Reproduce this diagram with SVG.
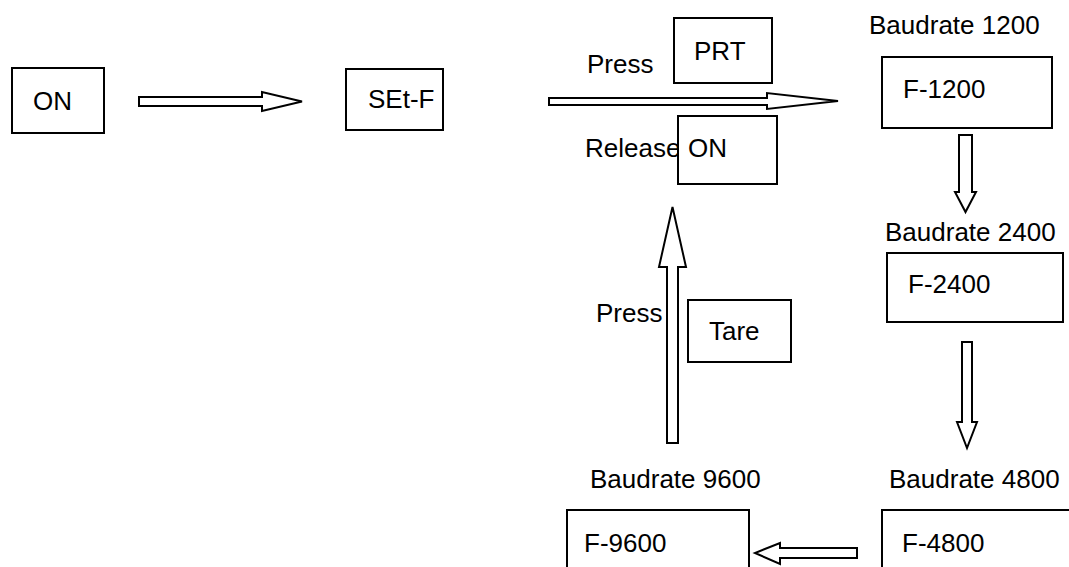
<svg xmlns="http://www.w3.org/2000/svg" width="1069" height="567" viewBox="0 0 1069 567">
<style>
.box{fill:#fff;stroke:#000;stroke-width:2}
.arr{fill:#fff;stroke:#000;stroke-width:2;stroke-linejoin:miter}
text{font-family:"Liberation Sans",Arial,sans-serif;font-size:26px;fill:#000}
</style>
<rect width="1069" height="567" fill="#fff"/>
<g id="connectors">
<polygon class="arr" points="139,97 262,97 262,92 302,101.5 262,111 262,106 139,106"/>
<polygon class="arr" points="549,98 767,98 767,93 838,101 767,109 767,105 549,105"/>
<polygon class="arr" points="959,135 972,135 972,192 976,192 965.5,212 955,192 959,192"/>
<polygon class="arr" points="962,342 972,342 972,422 977,422 967,448 957,422 962,422"/>
<polygon class="arr" points="857,548 857,558 780,558 780,564 755,553 780,543 780,548"/>
<polygon class="arr" points="667,443 678,443 678,267 686,267 672.5,207 659,267 667,267"/>
</g>
<g id="labels">
<text x="587" y="73">Press</text>
<text x="585" y="157">Release</text>
<text x="596" y="322">Press</text>
<text x="869" y="34">Baudrate 1200</text>
<text x="885" y="241">Baudrate 2400</text>
<text x="889" y="488">Baudrate 4800</text>
<text x="590" y="488">Baudrate 9600</text>
</g>
<g id="node-on"><rect class="box" x="12" y="68" width="92" height="65"/><text x="33" y="110">ON</text></g>
<g id="node-setf"><rect class="box" x="346" y="69" width="97" height="61"/><text x="368" y="108">SEt-F</text></g>
<g id="node-prt"><rect class="box" x="674" y="18" width="98" height="65"/><text x="694" y="60">PRT</text></g>
<g id="node-on2"><rect class="box" x="678" y="116" width="99" height="68"/><text x="688" y="157">ON</text></g>
<g id="node-tare"><rect class="box" x="688" y="300" width="103" height="62"/><text x="709" y="340">Tare</text></g>
<g id="node-f1200"><rect class="box" x="882" y="57" width="170" height="71"/><text x="903" y="98">F-1200</text></g>
<g id="node-f2400"><rect class="box" x="887" y="253" width="176" height="69"/><text x="908" y="293">F-2400</text></g>
<g id="node-f4800"><rect class="box" x="882" y="510" width="200" height="70"/><text x="902" y="552">F-4800</text></g>
<g id="node-f9600"><rect class="box" x="567" y="510" width="182" height="70"/><text x="584" y="552">F-9600</text></g>
</svg>
